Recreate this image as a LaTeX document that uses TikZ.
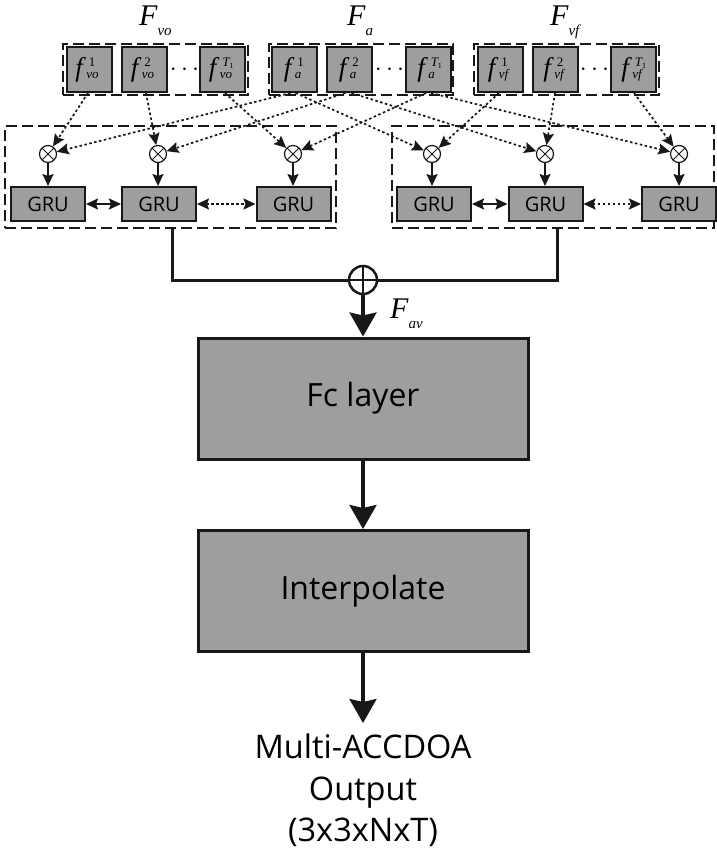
\documentclass[tikz,border=0pt]{standalone}
\usepackage{fontspec}
\setmainfont{Open Sans}
\newfontfamily\tms{Liberation Serif}
\usetikzlibrary{arrows.meta}

\definecolor{boxgray}{RGB}{157,158,157}
\definecolor{ink}{RGB}{24,24,24}

% feature symbol f with superscript #1 and subscript #2
\newcommand\featlab[2]{{\tms\itshape\fontsize{27}{27}\selectfont f}\kern3.5pt\rlap{\kern2.5pt\raisebox{10pt}{\tms\fontsize{13}{13}\selectfont #1}}\raisebox{-2pt}{\tms\itshape\fontsize{13}{13}\selectfont #2}\kern4pt}
% superscript T_1
\newcommand\tone{{\itshape T}\raisebox{-2pt}{\upshape\fontsize{8}{8}\selectfont 1}}
% large F with a low subscript
\newcommand\biglab[1]{{\tms\itshape\fontsize{30}{30}\selectfont F}\raisebox{-10pt}{\tms\itshape\fontsize{15}{15}\selectfont #1}}

\tikzset{
  cell/.style={draw=ink, line width=2pt, fill=boxgray, minimum width=45pt, minimum height=45pt, inner sep=0pt},
  grubox/.style={draw=ink, line width=2pt, fill=boxgray, minimum width=74pt, minimum height=34pt, inner sep=0pt, font=\fontsize{20}{20}\selectfont},
  bigbox/.style={draw=ink, line width=3pt, fill=boxgray, minimum width=330pt, minimum height=121pt, inner sep=0pt, font=\fontsize{32}{32}\selectfont},
  group/.style={draw=ink, line width=2pt, dash pattern=on 11pt off 5pt, inner sep=0pt},
  mult/.style={circle, draw=ink, line width=1.2pt, fill=white, minimum size=17pt, inner sep=0pt,
    path picture={\draw[ink, line width=1pt] (path picture bounding box.south west) -- (path picture bounding box.north east)
      (path picture bounding box.north west) -- (path picture bounding box.south east);}},
  oplus/.style={circle, draw=ink, line width=2.5pt, fill=white, minimum size=28pt, inner sep=0pt,
    path picture={\draw[ink, line width=2pt] (path picture bounding box.north) -- (path picture bounding box.south)
      (path picture bounding box.west) -- (path picture bounding box.east);}},
  dots/.style={inner sep=0pt, font=\fontsize{30}{30}\selectfont},
  dotarrow/.style={draw=ink, line width=1.7pt, dash pattern=on 2.5pt off 2.5pt, -{Stealth[length=12pt,width=11pt,inset=2pt]}},
  solidarrow/.style={draw=ink, line width=2pt, -{Stealth[length=12pt,width=11pt,inset=2pt]}},
  twoway/.style={draw=ink, line width=2pt, {Stealth[length=12pt,width=11pt,inset=2pt]}-{Stealth[length=12pt,width=11pt,inset=2pt]}},
  twowaydot/.style={twoway, dash pattern=on 2.5pt off 2.5pt},
  trunk/.style={draw=ink, line width=3pt},
  bigarrow/.style={draw=ink, line width=3.2pt, -{Stealth[length=24pt,width=27pt,inset=3pt]}},
  biglabel/.style={anchor=base west, inner sep=0pt},
}

\begin{document}
\begin{tikzpicture}[x=1pt,y=-1pt]
\useasboundingbox (0,0) rectangle (716,856);
\fill[white] (0,0) rectangle (716,856);

% feature group labels
\node[biglabel] (Lvo) at (139,26) {\biglab{vo}};
\node[biglabel] (La) at (347,26) {\biglab{a}};
\node[biglabel] (Lvf) at (550,26) {\biglab{vf}};

% dashed feature groups
\node[group, minimum width=185pt, minimum height=51pt] (Gvo) at (155.5,69.5) {};
\node[group, minimum width=184pt, minimum height=51pt] (Ga) at (361,69.5) {};
\node[group, minimum width=185pt, minimum height=51pt] (Gvf) at (566.5,69.5) {};

% feature cells
\node[cell] (vo1) at (89,69.5) {\featlab{1}{vo}};
\node[cell] (vo2) at (144.5,69.5) {\featlab{2}{vo}};
\node[dots] (vod) at (184.5,69.5) {$\cdots$};
\node[cell] (voT) at (222.5,69.5) {\featlab{\tone}{vo}};

\node[cell] (a1) at (294.5,69.5) {\featlab{1}{a}};
\node[cell] (a2) at (349.5,69.5) {\featlab{2}{a}};
\node[dots] (ad) at (389.5,69.5) {$\cdots$};
\node[cell] (aT) at (428,69.5) {\featlab{\tone}{a}};

\node[cell] (vf1) at (500,69.5) {\featlab{1}{vf}};
\node[cell] (vf2) at (555.5,69.5) {\featlab{2}{vf}};
\node[dots] (vfd) at (594.5,69.5) {$\cdots$};
\node[cell] (vfT) at (633.5,69.5) {\featlab{\tone}{vf}};

% dashed GRU groups
\node[group, minimum width=331pt, minimum height=102pt] (GL) at (170.5,177) {};
\node[group, minimum width=322pt, minimum height=102pt] (GR) at (553,177) {};

% multiplication nodes
\node[mult] (mL1) at (48,154) {};
\node[mult] (mL2) at (158,154) {};
\node[mult] (mL3) at (293,154) {};
\node[mult] (mR1) at (432,154) {};
\node[mult] (mR2) at (545,154) {};
\node[mult] (mR3) at (679,154) {};

% GRU cells
\node[grubox] (gL1) at (48,204) {GRU};
\node[grubox] (gL2) at (159,204) {GRU};
\node[grubox] (gL3) at (293.5,204) {GRU};
\node[grubox] (gR1) at (434,204) {GRU};
\node[grubox] (gR2) at (545.5,204) {GRU};
\node[grubox] (gR3) at (679,204) {GRU};

% dotted feature connections
\draw[dotarrow] ([xshift=-1pt]vo1.south) -- (mL1);
\draw[dotarrow] ([xshift=1.5pt]vo2.south) -- (mL2);
\draw[dotarrow] ([xshift=2.5pt]voT.south) -- (mL3);
\draw[dotarrow] ([xshift=-4pt]a1.south) -- (mL1);
\draw[dotarrow] ([xshift=1pt]a1.south) -- (mR1);
\draw[dotarrow] ([xshift=-4pt]a2.south) -- (mL2);
\draw[dotarrow] ([xshift=2pt]a2.south) -- (mR2);
\draw[dotarrow] ([xshift=-2pt]aT.south) -- (mL3);
\draw[dotarrow] ([xshift=3pt]aT.south) -- (mR3);
\draw[dotarrow] ([xshift=-1pt]vf1.south) -- (mR1);
\draw[dotarrow] ([xshift=-0.5pt]vf2.south) -- (mR2);
\draw[dotarrow] ([xshift=0.5pt]vfT.south) -- (mR3);

% products into the GRUs
\foreach \m/\g in {mL1/gL1, mL2/gL2, mL3/gL3, mR1/gR1, mR2/gR2, mR3/gR3}
  \draw[solidarrow] (\m) -- (\g.north -| \m);

% recurrent links
\draw[twoway] (gL1) -- (gL2);
\draw[twowaydot] (gL2) -- (gL3);
\draw[twoway] (gR1) -- (gR2);
\draw[twowaydot] (gR2) -- (gR3);

% fusion
\node[oplus] (plus) at (363,280) {};
\coordinate (jL) at (172,280);
\coordinate (jR) at (557,280);
\draw[trunk] (GL.south -| jL) -- (jL) -- (plus);
\draw[trunk] (GR.south -| jR) -- (jR) -- (plus);
\node[biglabel] (Lav) at (390,318) {\biglab{av}};

% output head
\node[bigbox] (fc) at (363,398.5) {Fc layer};
\node[bigbox] (interp) at (363,591) {Interpolate};
\node[align=center, anchor=north, inner sep=0pt, font=\fontsize{32.5}{41.5}\selectfont] (out) at (363,734) {Multi-ACCDOA\\Output\\(3x3xNxT)};

\draw[bigarrow] (plus) -- (fc);
\draw[bigarrow] (fc) -- (interp);
\draw[bigarrow, shorten >=11pt] (interp) -- (out);
\end{tikzpicture}
\end{document}
